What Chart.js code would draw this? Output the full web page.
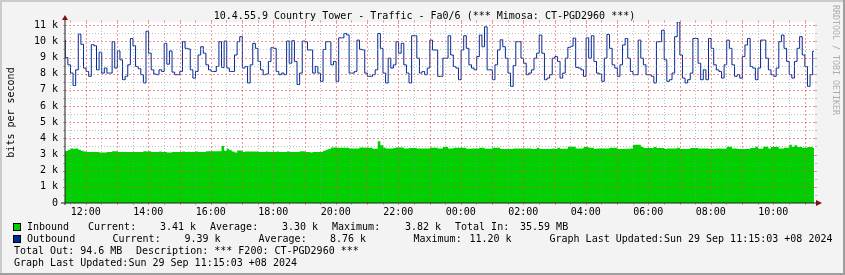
<!DOCTYPE html>
<html><head><meta charset="utf-8">
<script src="https://cdn.jsdelivr.net/npm/chart.js@4"></script>
<style>
html,body{margin:0;padding:0;background:#F3F3F3;}
canvas{display:block;}
</style></head>
<body><canvas id="c" width="845" height="275"></canvas>
<script>
// ---------- data (values in k bits per second) ----------
const chartTitle = '10.4.55.9 Country Tower - Traffic - Fa0/6 (*** Mimosa: CT-PGD2960 ***)';
const yAxisTitle = 'bits per second';
const watermark = 'RRDTOOL / TOBI OETIKER';
const sampleStartMinutes = 678;   // 11:18 of the first day
const sampleStepMinutes = 5;
const xRangeMinutes = [680, 2120];
const yRange = [0, 11.2];

const inbound = [
 3.16,3.22,3.30,3.38,3.36,3.38,3.30,3.23,3.18,3.15,
 3.15,3.15,3.15,3.15,3.12,3.12,3.12,3.15,3.15,3.20,
 3.20,3.15,3.15,3.15,3.15,3.15,3.15,3.15,3.15,3.15,
 3.15,3.20,3.18,3.20,3.15,3.15,3.15,3.18,3.15,3.15,
 3.12,3.12,3.15,3.15,3.15,3.15,3.18,3.15,3.17,3.15,
 3.15,3.18,3.15,3.15,3.15,3.20,3.20,3.20,3.20,3.20,
 3.20,3.52,3.23,3.36,3.27,3.18,3.12,3.25,3.25,3.15,
 3.18,3.18,3.18,3.18,3.18,3.15,3.15,3.15,3.18,3.15,
 3.15,3.15,3.18,3.15,3.15,3.15,3.18,3.15,3.15,3.15,
 3.15,3.20,3.20,3.15,3.15,3.12,3.15,3.15,3.15,3.15,
 3.23,3.30,3.34,3.44,3.44,3.42,3.42,3.42,3.42,3.42,
 3.37,3.37,3.37,3.37,3.43,3.43,3.42,3.42,3.42,3.35,
 3.35,3.82,3.58,3.44,3.37,3.37,3.37,3.40,3.44,3.44,
 3.44,3.38,3.38,3.40,3.40,3.40,3.38,3.38,3.38,3.38,
 3.38,3.42,3.42,3.42,3.38,3.38,3.46,3.46,3.38,3.38,
 3.42,3.42,3.42,3.42,3.42,3.36,3.36,3.38,3.38,3.38,
 3.42,3.42,3.36,3.36,3.36,3.42,3.42,3.42,3.34,3.34,
 3.34,3.34,3.34,3.38,3.38,3.38,3.38,3.38,3.38,3.38,
 3.34,3.34,3.42,3.34,3.34,3.34,3.34,3.34,3.38,3.34,
 3.42,3.36,3.36,3.36,3.48,3.48,3.48,3.38,3.38,3.38,
 3.46,3.46,3.42,3.42,3.34,3.38,3.38,3.38,3.38,3.38,
 3.42,3.42,3.42,3.34,3.34,3.34,3.36,3.36,3.38,3.61,
 3.61,3.61,3.48,3.40,3.40,3.40,3.40,3.46,3.40,3.40,
 3.40,3.34,3.38,3.38,3.38,3.38,3.42,3.34,3.34,3.34,
 3.34,3.40,3.40,3.40,3.38,3.38,3.38,3.38,3.36,3.36,
 3.36,3.38,3.38,3.36,3.36,3.48,3.48,3.38,3.38,3.34,
 3.34,3.34,3.34,3.34,3.40,3.40,3.48,3.36,3.36,3.48,
 3.48,3.38,3.46,3.46,3.46,3.38,3.38,3.42,3.42,3.61,
 3.48,3.58,3.46,3.46,3.42,3.42,3.46,3.46,3.41
];

const outbound = [
 10.08,9.00,8.55,8.04,7.27,8.24,10.45,9.82,8.35,8.14,
 7.84,9.80,9.73,8.24,9.33,8.04,8.35,8.04,8.04,9.98,
 8.35,9.41,8.86,7.63,7.84,8.55,10.18,9.73,8.45,8.31,
 7.94,7.43,10.63,9.27,8.24,7.98,7.94,8.24,8.14,9.88,
 8.59,9.41,8.10,7.94,7.94,8.14,9.98,9.57,9.53,8.24,
 7.73,8.14,9.16,9.67,9.27,8.55,8.24,8.14,8.14,8.45,
 9.98,8.39,10.02,8.35,8.14,8.14,9.16,9.98,10.29,8.35,
 8.45,7.43,8.55,9.88,9.57,8.76,8.24,7.94,7.98,8.76,
 9.61,9.57,8.14,7.94,8.04,7.94,10.02,8.65,10.04,8.76,
 7.33,8.04,10.02,9.98,9.47,9.47,8.04,8.45,8.04,7.53,
 9.50,9.98,9.98,8.55,8.76,7.53,10.22,10.22,10.49,10.40,
 8.04,8.04,8.14,10.08,9.51,9.47,8.04,7.84,7.84,7.94,
 8.24,10.49,9.57,8.04,7.43,8.96,8.35,8.55,9.98,9.27,
 9.88,8.55,8.04,7.43,10.35,10.35,8.96,8.04,8.14,7.94,
 8.35,10.08,9.47,9.47,7.84,7.84,8.96,8.96,10.35,9.16,
 8.45,8.35,7.63,9.47,10.35,9.57,8.55,8.35,8.24,9.06,
 10.39,9.67,10.90,8.24,8.24,7.63,8.55,9.47,10.10,9.67,
 8.96,8.04,7.22,8.50,9.98,9.98,8.96,8.65,7.94,8.04,
 8.24,8.96,9.27,10.39,9.27,7.63,7.73,7.94,8.96,9.06,
 8.76,7.73,8.04,8.96,9.63,9.70,10.20,8.39,8.35,8.24,
 7.84,10.22,8.96,10.35,8.76,8.04,7.98,7.53,8.96,10.43,
 9.57,8.55,8.35,7.84,8.55,9.78,10.18,8.96,8.14,7.94,
 7.94,10.08,8.96,8.55,7.94,7.94,7.84,7.43,9.98,9.98,
 10.69,8.86,7.53,7.63,8.04,10.29,11.20,9.16,7.73,7.43,
 7.63,8.04,10.18,10.18,8.65,7.63,8.24,7.63,10.18,9.57,
 8.55,8.24,8.14,7.73,8.55,10.08,9.57,8.55,7.84,7.94,
 7.73,9.06,9.78,10.18,8.45,8.35,7.63,8.35,10.08,10.08,
 8.96,8.24,7.94,7.84,8.35,9.98,10.39,9.57,8.76,7.94,
 7.73,8.76,9.57,10.29,9.16,8.45,7.22,7.94,9.39
];

const yTickValues = [0,1,2,3,4,5,6,7,8,9,10,11];
const yTickLabels = ['0','1 k','2 k','3 k','4 k','5 k','6 k','7 k','8 k','9 k','10 k','11 k'];
const xTickMinutes = [720,840,960,1080,1200,1320,1440,1560,1680,1800,1920,2040];
const xTickLabels = ['12:00','14:00','16:00','18:00','20:00','22:00','00:00','02:00','04:00','06:00','08:00','10:00'];

const seriesNames = ['Inbound','Outbound'];
const inboundLegend = ['Current:','3.41 k','Average:','3.30 k','Maximum:','3.82 k','Total In:','35.59 MB'];
const outboundLegend = ['Current:','9.39 k','Average:','8.76 k','Maximum:','11.20 k','Graph Last Updated:Sun 29 Sep 11:15:03 +08 2024'];
const footerLine1 = ['Total Out: 94.6 MB','Description: *** F200: CT-PGD2960 ***'];
const footerLine2 = 'Graph Last Updated:Sun 29 Sep 11:15:03 +08 2024';

// ---------- styling ----------
const FONT = '"DejaVu Sans Mono", "Liberation Mono", monospace';
const C_IN = '#00CF00', C_OUT = '#002A97';

const toPoints = arr => arr.map((v, i) => ({x: sampleStartMinutes + i * sampleStepMinutes, y: v}));

const rrdPlugin = {
  id: 'rrd',
  beforeDraw(chart) {
    const ctx = chart.ctx, a = chart.chartArea, W = chart.width, H = chart.height;
    ctx.save();
    ctx.fillStyle = '#F3F3F3'; ctx.fillRect(0, 0, W, H);
    ctx.fillStyle = '#CBCBCB'; ctx.fillRect(0, 0, W, 2); ctx.fillRect(0, 0, 2, H);
    ctx.fillStyle = '#9E9E9E'; ctx.fillRect(0, H - 2, W, 2); ctx.fillRect(W - 2, 0, 2, H);
    ctx.fillStyle = '#FFFFFF'; ctx.fillRect(a.left, a.top, a.right - a.left, a.bottom - a.top);
    ctx.restore();
  },
  afterDatasetsDraw(chart) {
    const ctx = chart.ctx, a = chart.chartArea, xs = chart.scales.x, ys = chart.scales.y;
    ctx.save();
    const minorCol = 'rgba(140,140,140,0.55)', majorCol = 'rgba(225,70,70,0.55)';
    function hline(v, col, dash) {
      const y = Math.round(ys.getPixelForValue(v)) + 0.5;
      ctx.strokeStyle = col; ctx.lineWidth = 1;
      ctx.setLineDash([]);
      ctx.beginPath(); ctx.moveTo(a.left - 2, y); ctx.lineTo(a.left, y);
      ctx.moveTo(a.right, y); ctx.lineTo(a.right + 2, y); ctx.stroke();
      ctx.setLineDash(dash);
      ctx.beginPath(); ctx.moveTo(a.left, y); ctx.lineTo(a.right, y); ctx.stroke();
    }
    function vline(v, col, dash) {
      const x = Math.round(xs.getPixelForValue(v)) + 0.5;
      ctx.strokeStyle = col; ctx.lineWidth = 1;
      ctx.setLineDash([]);
      ctx.beginPath(); ctx.moveTo(x, a.bottom); ctx.lineTo(x, a.bottom + 2);
      ctx.moveTo(x, a.top - 2); ctx.lineTo(x, a.top); ctx.stroke();
      ctx.setLineDash(dash);
      ctx.beginPath(); ctx.moveTo(x, a.top); ctx.lineTo(x, a.bottom); ctx.stroke();
    }
    for (let v = 0.5; v < yRange[1]; v += 1) hline(v, minorCol, [1, 2]);
    for (let m = 690; m < xRangeMinutes[1]; m += 60) vline(m, minorCol, [1, 2]);
    for (let v = 1; v <= 11; v += 1) hline(v, majorCol, [2, 2]);
    for (let m = 720; m < xRangeMinutes[1]; m += 60) vline(m, majorCol, [2, 2]);
    ctx.setLineDash([]);
    // axes
    ctx.strokeStyle = '#202020'; ctx.lineWidth = 1;
    ctx.beginPath(); ctx.moveTo(a.left - 4, a.bottom); ctx.lineTo(a.right + 2, a.bottom); ctx.stroke();
    ctx.beginPath(); ctx.moveTo(a.left, a.bottom + 2); ctx.lineTo(a.left, a.top - 4); ctx.stroke();
    // arrows
    ctx.fillStyle = '#7F1010';
    ctx.beginPath(); ctx.moveTo(a.left, a.top - 7); ctx.lineTo(a.left - 3, a.top - 2); ctx.lineTo(a.left + 3, a.top - 2); ctx.closePath(); ctx.fill();
    ctx.beginPath(); ctx.moveTo(a.right + 7, a.bottom); ctx.lineTo(a.right + 1, a.bottom - 3); ctx.lineTo(a.right + 1, a.bottom + 3); ctx.closePath(); ctx.fill();
    ctx.restore();
  },
  afterDraw(chart) {
    const ctx = chart.ctx, a = chart.chartArea;
    ctx.save();
    ctx.fillStyle = '#000';
    ctx.font = '10px ' + FONT;
    ctx.textBaseline = 'alphabetic';
    ctx.textAlign = 'center';
    ctx.fillText(chartTitle, 424.5, 19);
    // y title
    ctx.save();
    ctx.translate(11, (a.top + a.bottom) / 2);
    ctx.rotate(-Math.PI / 2);
    ctx.textBaseline = 'middle';
    ctx.fillText(yAxisTitle, 0, 0);
    ctx.restore();
    // watermark
    ctx.save();
    ctx.translate(835, 5);
    ctx.rotate(Math.PI / 2);
    ctx.textAlign = 'left'; ctx.textBaseline = 'middle';
    ctx.fillStyle = '#ADADAD';
    ctx.font = '8.3px ' + FONT;
    ctx.fillText(watermark, 0, 0);
    ctx.restore();
    // legend
    ctx.textAlign = 'left';
    function box(y, col) {
      ctx.fillStyle = col; ctx.fillRect(13.5, y, 7, 7);
      ctx.strokeStyle = '#000'; ctx.lineWidth = 1; ctx.strokeRect(13.5, y, 7, 7);
      ctx.fillStyle = '#000';
    }
    box(223.5, C_IN);
    box(235.5, C_OUT);
    ctx.fillStyle = '#000';
    ctx.fillText(seriesNames[0], 27, 230);
    const inX = [88, 160, 210, 282, 332, 405, 455, 520];
    inboundLegend.forEach((t, i) => ctx.fillText(t, inX[i], 230));
    ctx.fillText(seriesNames[1], 27, 242);
    const outX = [112.5, 184.5, 258.5, 330, 413.5, 469.5, 549.5];
    outboundLegend.forEach((t, i) => ctx.fillText(t, outX[i], 242));
    ctx.fillText(footerLine1[0], 14, 254);
    ctx.fillText(footerLine1[1], 136, 254);
    ctx.fillText(footerLine2, 14, 266);
    ctx.restore();
  }
};

new Chart(document.getElementById('c'), {
  type: 'line',
  data: {
    datasets: [
      {label: seriesNames[1], data: toPoints(outbound), borderColor: C_OUT, borderWidth: 1,
       pointRadius: 0, stepped: 'middle', fill: false, order: 0},
      {label: seriesNames[0], data: toPoints(inbound), borderColor: C_IN, borderWidth: 0,
       backgroundColor: C_IN, pointRadius: 0, stepped: 'middle', fill: 'origin', order: 1}
    ]
  },
  options: {
    responsive: false, animation: false, devicePixelRatio: 1,
    events: [],
    layout: {padding: {left: 0, top: 22, right: 30, bottom: 0}},
    plugins: {legend: {display: false}, tooltip: {enabled: false}, title: {display: false}},
    scales: {
      x: {
        type: 'linear', min: xRangeMinutes[0], max: xRangeMinutes[1],
        grid: {display: false, drawTicks: false}, border: {display: false},
        ticks: {font: {family: FONT, size: 10}, color: '#000', padding: 3, maxRotation: 0, autoSkip: false,
          callback: v => { const k = xTickMinutes.indexOf(v); return k >= 0 ? xTickLabels[k] : ''; }},
        afterBuildTicks: s => { s.ticks = xTickMinutes.map(v => ({value: v})); },
        afterFit: s => { s.height = 72; }
      },
      y: {
        min: yRange[0], max: yRange[1],
        grid: {display: false, drawTicks: false}, border: {display: false},
        ticks: {font: {family: FONT, size: 10}, color: '#000', padding: 7,
          callback: v => { const k = yTickValues.indexOf(v); return k >= 0 ? yTickLabels[k] : ''; }},
        afterBuildTicks: s => { s.ticks = yTickValues.map(v => ({value: v})); },
        afterFit: s => { s.width = 65; }
      }
    }
  },
  plugins: [rrdPlugin]
});
</script>
</body></html>
